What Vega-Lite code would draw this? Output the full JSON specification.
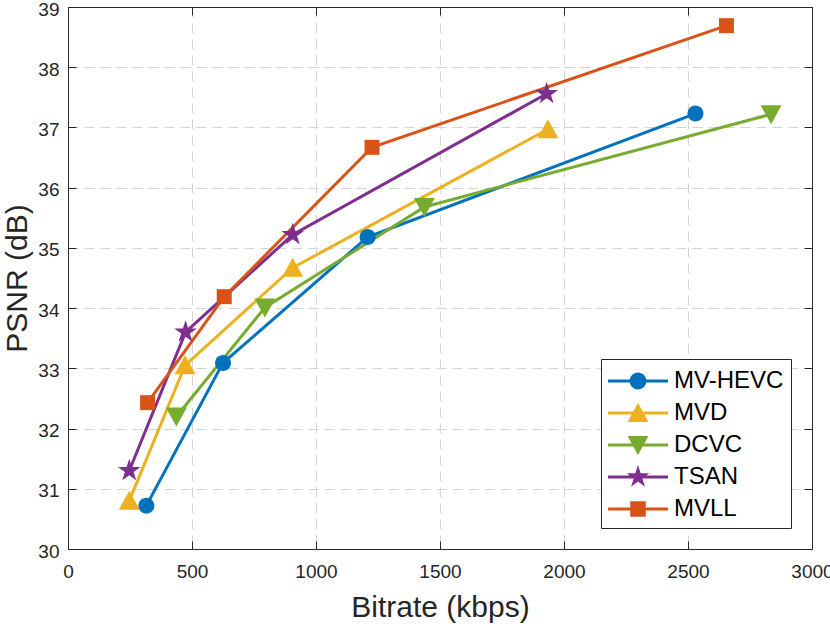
{
  "$schema": "https://vega.github.io/schema/vega-lite/v6.json",
  "width": 744,
  "height": 542,
  "autosize": {"type": "none"},
  "padding": {"left": 68, "top": 7, "right": 18, "bottom": 77},
  "background": "white",
  "data": {
    "values": [
      {"method": "MV-HEVC", "bitrate": 316, "psnr": 30.72},
      {"method": "MV-HEVC", "bitrate": 625, "psnr": 33.09},
      {"method": "MV-HEVC", "bitrate": 1208, "psnr": 35.18},
      {"method": "MV-HEVC", "bitrate": 2530, "psnr": 37.23},
      {"method": "MVD", "bitrate": 247, "psnr": 30.8},
      {"method": "MVD", "bitrate": 472, "psnr": 33.05},
      {"method": "MVD", "bitrate": 906, "psnr": 34.67},
      {"method": "MVD", "bitrate": 1935, "psnr": 36.97},
      {"method": "DCVC", "bitrate": 437, "psnr": 32.2},
      {"method": "DCVC", "bitrate": 794, "psnr": 34.01},
      {"method": "DCVC", "bitrate": 1437, "psnr": 35.68},
      {"method": "DCVC", "bitrate": 2835, "psnr": 37.22},
      {"method": "TSAN", "bitrate": 247, "psnr": 31.3},
      {"method": "TSAN", "bitrate": 474, "psnr": 33.6},
      {"method": "TSAN", "bitrate": 906, "psnr": 35.22},
      {"method": "TSAN", "bitrate": 1930, "psnr": 37.56},
      {"method": "MVLL", "bitrate": 321, "psnr": 32.43},
      {"method": "MVLL", "bitrate": 630, "psnr": 34.19},
      {"method": "MVLL", "bitrate": 1226, "psnr": 36.67},
      {"method": "MVLL", "bitrate": 2655, "psnr": 38.69}
    ]
  },
  "encoding": {
    "x": {"field": "bitrate", "type": "quantitative", "scale": {"domain": [0, 3000], "nice": false, "zero": false}, "axis": null},
    "y": {"field": "psnr", "type": "quantitative", "scale": {"domain": [30, 39], "nice": false, "zero": false}, "axis": null},
    "color": {
      "field": "method", "type": "nominal",
      "scale": {
        "domain": ["MV-HEVC", "MVD", "DCVC", "TSAN", "MVLL"],
        "range": ["#0072BD", "#EDB120", "#77AC30", "#7E2F8E", "#D95319"]
      },
      "legend": {
        "title": null,
        "orient": "bottom-right",
        "offset": 21,
        "symbolSize": 900,
        "labelOffset": 36,
        "rowPadding": 5,
        "padding": 7,
        "encode": {
          "symbols": {
            "update": {
              "shape": {"signal": "datum.value === 'MV-HEVC' ? 'M-1,-0.1H3V0.1H-1Z M0.44,0 A0.56,0.56 0 1,1 1.56,0 A0.56,0.56 0 1,1 0.44,0Z' : datum.value === 'MVD' ? 'M-1,-0.1H3V0.1H-1Z M1,-0.67 L1.7,0.6 L0.3,0.6Z' : datum.value === 'DCVC' ? 'M-1,-0.1H3V0.1H-1Z M0.3,-0.6 L1.7,-0.6 L1,0.67Z' : datum.value === 'TSAN' ? 'M-1,-0.1H3V0.1H-1Z M1,-0.793 L1.178,-0.245 L1.754,-0.245 L1.288,0.094 L1.466,0.642 L1,0.303 L0.534,0.642 L0.712,0.094 L0.246,-0.245 L0.822,-0.245Z' : 'M-1,-0.1H3V0.1H-1Z M0.483,-0.517H1.517V0.517H0.483Z'"},
              "fill": {"scale": "color", "field": "value"},
              "stroke": {"value": "transparent"},
              "strokeWidth": {"value": 0},
              "size": {"value": 900},
              "opacity": {"value": 1}
            }
          }
        }
      }
    }
  },
  "layer": [
    {
      "mark": {"type": "line", "strokeWidth": 3},
      "encoding": {
        "x": {
          "field": "bitrate", "type": "quantitative",
          "title": "Bitrate (kbps)",
          "axis": {
            "orient": "bottom",
            "values": [0, 500, 1000, 1500, 2000, 2500, 3000],
            "format": "d",
            "grid": true,
            "labelPadding": 21,
            "titlePadding": 11
          }
        },
        "y": {
          "field": "psnr", "type": "quantitative",
          "title": "PSNR (dB)",
          "axis": {
            "orient": "left",
            "values": [30, 31, 32, 33, 34, 35, 36, 37, 38, 39],
            "format": "d",
            "grid": true,
            "labelPadding": 17,
            "labelOffset": 2,
            "titlePadding": 5
          }
        },
        "order": {"field": "bitrate", "type": "quantitative"}
      }
    },
    {
      "transform": [{"filter": "datum.method === 'MV-HEVC'"}],
      "mark": {"type": "point", "filled": true, "size": 400, "opacity": 1, "strokeWidth": 0,
        "shape": "M-0.8,0 A0.8,0.8 0 1,1 0.8,0 A0.8,0.8 0 1,1 -0.8,0 Z"},
      "encoding": {
        "x": {
          "field": "bitrate", "type": "quantitative",
          "axis": {"orient": "top", "values": [0, 500, 1000, 1500, 2000, 2500, 3000], "labels": false, "grid": false, "title": null}
        },
        "y": {
          "field": "psnr", "type": "quantitative",
          "axis": {"orient": "right", "values": [30, 31, 32, 33, 34, 35, 36, 37, 38, 39], "labels": false, "grid": false, "title": null}
        }
      }
    },
    {
      "transform": [{"filter": "datum.method === 'MVD'"}],
      "mark": {"type": "point", "filled": true, "size": 400, "opacity": 1, "strokeWidth": 0,
        "shape": "M0,-1 L1.05,0.9 L-1.05,0.9 Z"}
    },
    {
      "transform": [{"filter": "datum.method === 'DCVC'"}],
      "mark": {"type": "point", "filled": true, "size": 400, "opacity": 1, "strokeWidth": 0,
        "shape": "M-1.05,-0.9 L1.05,-0.9 L0,1 Z"}
    },
    {
      "transform": [{"filter": "datum.method === 'TSAN'"}],
      "mark": {"type": "point", "filled": true, "size": 400, "opacity": 1, "strokeWidth": 0,
        "shape": "M0,-1.19 L0.267,-0.368 L1.132,-0.368 L0.433,0.141 L0.699,0.963 L0,0.455 L-0.699,0.963 L-0.433,0.141 L-1.132,-0.368 L-0.267,-0.368 Z"}
    },
    {
      "transform": [{"filter": "datum.method === 'MVLL'"}],
      "mark": {"type": "point", "filled": true, "size": 400, "opacity": 1, "strokeWidth": 0,
        "shape": "M-0.75,-0.75 H0.75 V0.75 H-0.75 Z"}
    }
  ],
  "resolve": {"axis": {"x": "independent", "y": "independent"}},
  "config": {
    "view": {"stroke": null},
    "font": "Liberation Sans",
    "axis": {
      "domainColor": "#262626",
      "domainWidth": 1,
      "tickColor": "#262626",
      "tickSize": -8,
      "tickWidth": 1,
      "labelColor": "#262626",
      "labelFont": "Liberation Sans",
      "labelFontSize": 19,
      "labelFlush": false,
      "labelOverlap": false,
      "titleColor": "#262626",
      "titleFont": "Liberation Sans",
      "titleFontSize": 30,
      "titleFontWeight": "normal",
      "gridColor": "#d4d4d4",
      "gridDash": [10, 6],
      "gridWidth": 1
    },
    "legend": {
      "strokeColor": "#262626",
      "fillColor": "white",
      "labelFont": "Liberation Sans",
      "labelFontSize": 24,
      "labelColor": "#000000"
    }
  }
}
